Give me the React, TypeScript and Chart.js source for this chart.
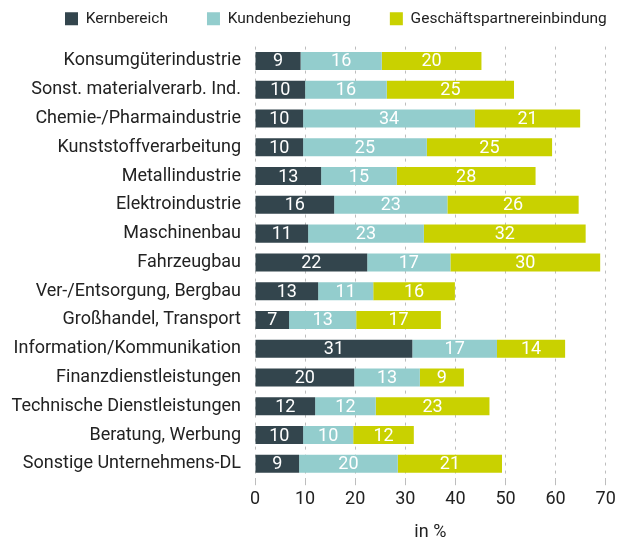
import { useEffect, useRef } from 'react';
import { Chart, registerables } from 'chart.js';

Chart.register(...registerables);

const categories = [
  'Konsumgüterindustrie',
  'Sonst. materialverarb. Ind.',
  'Chemie-/Pharmaindustrie',
  'Kunststoffverarbeitung',
  'Metallindustrie',
  'Elektroindustrie',
  'Maschinenbau',
  'Fahrzeugbau',
  'Ver-/Entsorgung, Bergbau',
  'Großhandel, Transport',
  'Information/Kommunikation',
  'Finanzdienstleistungen',
  'Technische Dienstleistungen',
  'Beratung, Werbung',
  'Sonstige Unternehmens-DL',
];

const seriesNames = ['Kernbereich', 'Kundenbeziehung', 'Geschäftspartnereinbindung'];

const kernbereich = [9.1, 10.0, 9.6, 9.6, 13.2, 15.8, 10.6, 22.4, 12.6, 6.8, 31.4, 19.8, 12.0, 9.6, 8.8];
const kundenbeziehung = [16.2, 16.3, 34.3, 24.7, 15.1, 22.6, 23.1, 16.6, 11.0, 13.4, 16.9, 13.1, 12.1, 10.0, 19.7];
const partnereinbindung = [19.9, 25.4, 21.0, 25.0, 27.7, 26.2, 32.3, 29.9, 16.3, 16.9, 13.6, 8.8, 22.7, 12.1, 20.8];

const xMin = 0;
const xMax = 70;
const xStep = 10;
const xTitle = 'in %';

const colors = ['#33454d', '#93cdcd', '#c9d100'];
const FONT = 'Roboto, sans-serif';
const TEXT = '#222222';
const CAT_SIZE = 18;
const CAT_MAX_WIDTH = 232;

let measureCtx: CanvasRenderingContext2D | null = null;
function categoryFont(c: any) {
  if (!measureCtx) measureCtx = document.createElement('canvas').getContext('2d');
  const label = categories[c.index] ?? '';
  let size = CAT_SIZE;
  if (measureCtx) {
    measureCtx.font = `${CAT_SIZE}px ${FONT}`;
    const w = measureCtx.measureText(label).width;
    if (w > CAT_MAX_WIDTH) size = (CAT_SIZE * CAT_MAX_WIDTH) / w;
  }
  return { family: FONT, size };
}

const valueLabels = {
  id: 'valueLabels',
  afterDatasetsDraw(chart: any) {
    const ctx = chart.ctx;
    ctx.save();
    ctx.font = `18px ${FONT}`;
    ctx.fillStyle = '#ffffff';
    ctx.textAlign = 'center';
    ctx.textBaseline = 'middle';
    chart.data.datasets.forEach((ds: any, di: number) => {
      const meta = chart.getDatasetMeta(di);
      meta.data.forEach((el: any, i: number) => {
        const { x, y, base } = el.getProps(['x', 'y', 'base'], true);
        ctx.fillText(String(Math.round(ds.data[i])), (x + base) / 2, y + 1);
      });
    });
    ctx.restore();
  },
};

const LEGEND_TOP = -27.95;
const LEGEND_HEIGHT = 74.55;
const LEGEND_LEFT = 26;
const legendPlacer = {
  id: 'legendPlacer',
  afterInit(chart: any) {
    const legend = chart.legend;
    if (!legend) return;
    const origFit = legend.fit.bind(legend);
    legend.fit = function () {
      origFit();
      this.height = LEGEND_HEIGHT;
    };
  },
  afterLayout(chart: any) {
    const legend = chart.legend;
    if (legend) legend.left = LEGEND_LEFT;
  },
};

export default function App() {
  const ref = useRef<HTMLCanvasElement>(null);

  useEffect(() => {
    document.body.style.margin = '0';
    const canvas = ref.current;
    if (!canvas) return;
    const chart = new Chart(canvas, {
      type: 'bar',
      data: {
        labels: categories,
        datasets: [kernbereich, kundenbeziehung, partnereinbindung].map((d, i) => ({
          label: seriesNames[i],
          data: d,
          backgroundColor: colors[i],
          borderWidth: 0,
          barPercentage: 0.626,
          categoryPercentage: 1,
        })),
      },
      options: {
        animation: false,
        responsive: false,
        indexAxis: 'y',
        layout: { padding: { top: LEGEND_TOP, left: 0, right: -40, bottom: -3 } },
        plugins: {
          legend: {
            position: 'top',
            align: 'start',
            labels: {
              boxWidth: 13,
              boxHeight: 13,
              padding: 39,
              color: TEXT,
              font: { family: FONT, size: 15.5 },
            },
          },
          tooltip: { enabled: false },
        },
        scales: {
          x: {
            stacked: true,
            min: xMin,
            max: xMax,
            ticks: {
              stepSize: xStep,
              color: TEXT,
              padding: 5,
              font: { family: FONT, size: 18, lineHeight: 1 },
            },
            grid: {
              color: '#bdbdbd',
              tickLength: 7,
              drawTicks: true,
              tickBorderDash: [],
            },
            border: { display: false, dash: [3, 5] },
            title: {
              display: true,
              text: xTitle,
              color: TEXT,
              font: { family: FONT, size: 18, lineHeight: 1 },
              padding: { top: 10, bottom: 0 },
            },
            afterFit: (scale: any) => {
              scale.height = 62.8;
              scale.paddingRight = 11.3;
            },
          },
          y: {
            stacked: true,
            grid: { display: false, drawTicks: false },
            border: { display: false },
            ticks: {
              color: TEXT,
              padding: 14,
              font: categoryFont,
            },
            afterFit: (scale: any) => {
              scale.width = 255;
            },
          },
        },
      },
      plugins: [valueLabels, legendPlacer],
    } as any);
    return () => chart.destroy();
  }, []);

  return (
    <div style={{ width: 617, height: 538 }}>
      <canvas ref={ref} width={617} height={538} style={{ display: 'block' }} />
    </div>
  );
}
